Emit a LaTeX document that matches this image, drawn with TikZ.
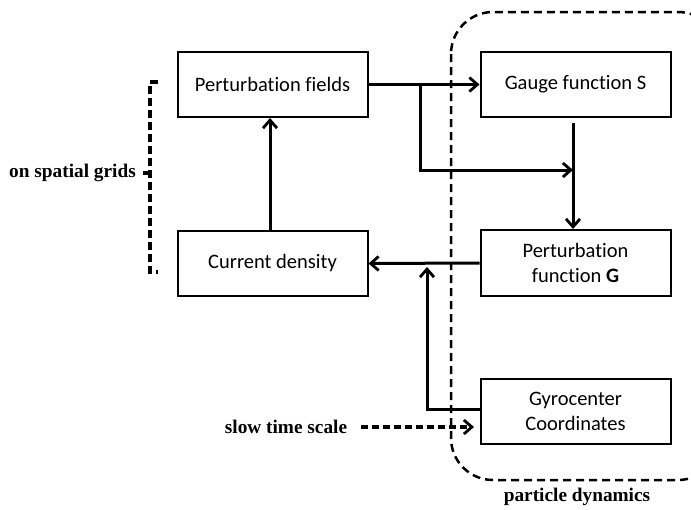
\documentclass[tikz,border=0pt]{standalone}
\usepackage{fontspec}
\setmainfont{Liberation Serif}
\newfontfamily\boxfont[Ligatures=CommonOff]{Carlito}
\usetikzlibrary{arrows.meta}
\begin{document}
\begin{tikzpicture}[x=1pt,y=-1pt,
  blockbox/.style={draw, line width=2pt, minimum width=190pt, minimum height=65pt, align=center, inner sep=0pt, font=\boxfont\fontsize{20.5}{25}\selectfont},
  tipstyle/.style={-{Straight Barb[length=8pt,width=14pt,line width=2.8pt]}},
  conn/.style={line width=3pt, tipstyle},
  plainconn/.style={line width=3pt},
  lbl/.style={font=\bfseries\fontsize{19.3}{23}\selectfont, inner sep=0pt},
  dashline/.style={line width=3.3pt, dash pattern=on 7pt off 5pt}]
\useasboundingbox (0,0) rectangle (691,509);
% boxes
\node[blockbox] (pf) at (272.5,84.5) {Perturbation fields};
\node[blockbox] (cd) at (272.5,263.5) {Current density};
\node[blockbox] (gs) at (575.5,84.5) {Gauge function S};
\node[blockbox, minimum height=66pt] (pg) at (575.5,263) {Perturbation\\function \textbf{G}};
\node[blockbox] (gc) at (575.5,411.5) {Gyrocenter\\Coordinates};
% particle dynamics region
\draw[line width=2.5pt, dash pattern=on 8pt off 5pt, rounded corners=42pt] (451,12) rectangle (720,480);
\node[lbl] (pd) at (577,497) {particle dynamics};
% connectors
\draw[conn] (pf.east) -- (gs.west);
\coordinate (b0) at (420,86);
\coordinate (b1) at (420,170);
\coordinate (b2) at (573,170);
\draw[plainconn] (b0) -- (b1) -- ([xshift=1.5pt]b1);
\draw[conn] ([xshift=-1.5pt]b1) -- (b2);
\coordinate (v0) at (573,123);
\draw[conn] (v0) -- (pg.north -| v0);
\draw[conn] (pg.west) -- (cd.east);
\coordinate (g1) at (427,409);
\coordinate (g2) at (427,267);
\draw[plainconn] (gc.west |- g1) -- (g1) -- ([yshift=1.5pt]g1);
\draw[conn] ([yshift=1.5pt]g1) -- (g2);
\draw[conn] (cd.north -| 270,0) -- (pf.south -| 270,0);
% slow time scale
\node[lbl] (sts) at (286,427) {slow time scale};
\coordinate (s0) at (361,427);
\coordinate (s1) at (474,427);
\draw[dashline, tipstyle, dash pattern=on 7pt off 4pt] (s0) -- (s1);
% bracket
\coordinate (k0) at (158,82);
\coordinate (k1) at (150,82);
\coordinate (k2) at (150,272);
\coordinate (k3) at (158,272);
\coordinate (km) at (150,173);
\coordinate (kl) at (143,173);
\draw[dashline, dash pattern=on 8pt off 4pt] (k0) -- (k1) -- (k2) -- (k3);
\draw[line width=3.3pt] (km) -- (kl);
\node[lbl, anchor=east] (osg) at (136,173) {on spatial grids};
\end{tikzpicture}
\end{document}
